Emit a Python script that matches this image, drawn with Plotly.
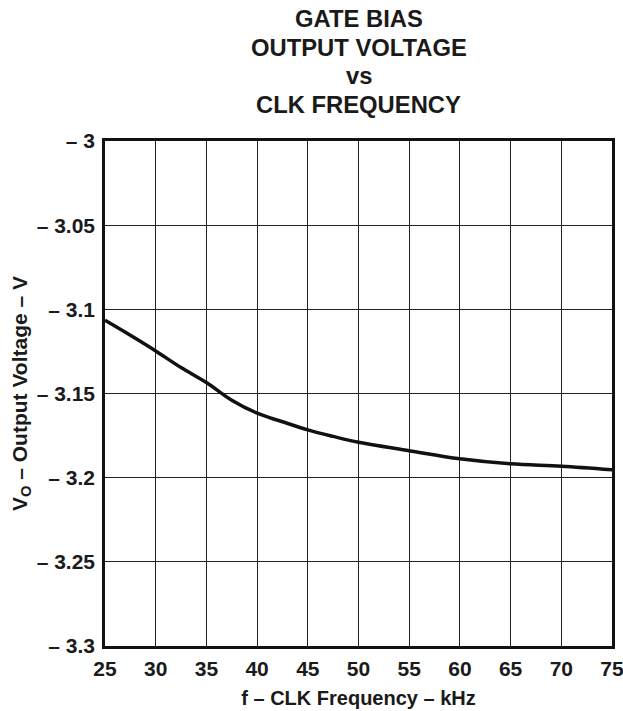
import plotly.graph_objects as go

# Data
freq_khz = [25, 27.5, 30, 32.5, 35, 37.5, 40, 42.5, 45, 47.5, 50, 55, 60, 65, 70, 75]
vout = [-3.1065, -3.1154, -3.1247, -3.1346, -3.1435, -3.1540, -3.1617, -3.1668,
        -3.1716, -3.1755, -3.1790, -3.1840, -3.1888, -3.1918, -3.1932, -3.1953]

x_ticks = [25, 30, 35, 40, 45, 50, 55, 60, 65, 70, 75]
x_ticktext = ["25", "30", "35", "40", "45", "50", "55", "60", "65", "70", "75"]
y_ticks = [-3.0, -3.05, -3.1, -3.15, -3.2, -3.25, -3.3]
y_ticktext = ["– 3", "– 3.05", "– 3.1", "– 3.15", "– 3.2", "– 3.25", "– 3.3"]

title_lines = ["GATE BIAS", "OUTPUT VOLTAGE", "vs", "CLK FREQUENCY"]
x_title = "f – CLK Frequency – kHz"
y_title = "V<sub>O</sub> – Output Voltage – V"

FONT = "Liberation Sans, Arial, sans-serif"
INK = "#1a1a1a"

W, H = 623, 711
M_L, M_R, M_T, M_B = 105, 11, 141, 65
PLOT_H = H - M_T - M_B

fig = go.Figure()
fig.add_trace(go.Scatter(
    x=freq_khz, y=vout, mode="lines",
    line=dict(color="#111111", width=3.5, shape="spline", smoothing=1.0),
    showlegend=False, hoverinfo="skip",
))

fig.update_layout(
    width=W, height=H,
    margin=dict(l=M_L, r=M_R, t=M_T, b=M_B, autoexpand=False),
    paper_bgcolor="white", plot_bgcolor="white",
    font=dict(family=FONT, color=INK, size=21, weight="bold"),
)

# title lines, each centred on the plot; vertical line centres in pixels from the top
title_centres_px = [18.5, 47, 76, 105]
for line, cy in zip(title_lines, title_centres_px):
    fig.add_annotation(
        text=line,
        xref="paper", x=0.5, xanchor="center",
        yref="paper", y=1 + (M_T - cy) / PLOT_H, yanchor="middle",
        showarrow=False,
        font=dict(family=FONT, size=23.8, color=INK, weight="bold"),
    )

fig.update_xaxes(
    range=[25, 75], tickvals=x_ticks, ticktext=x_ticktext,
    showgrid=True, gridcolor="#222222", gridwidth=1.3,
    showline=True, linecolor="#111111", linewidth=2.5, mirror=True,
    ticks="", ticklabelstandoff=2, automargin=False, ticklabeloverflow="allow",
    tickfont=dict(size=21, family=FONT, weight="bold"),
    title=dict(text=x_title, font=dict(size=20, family=FONT, weight="bold"), standoff=13),
    zeroline=False,
)
fig.update_yaxes(
    range=[-3.3, -3.0], tickvals=y_ticks, ticktext=y_ticktext,
    showgrid=True, gridcolor="#222222", gridwidth=1.3,
    showline=True, linecolor="#111111", linewidth=2.5, mirror=True,
    ticks="", ticklabelstandoff=3, automargin=False, ticklabeloverflow="allow",
    tickfont=dict(size=21, family=FONT, weight="bold"),
    title=dict(text=y_title, font=dict(size=21, family=FONT, weight="bold"), standoff=4),
    zeroline=False,
)

fig.write_html(
    "out.html",
    config={"displayModeBar": False},
    post_script="document.body.style.margin='0';document.body.style.overflow='hidden';",
)
